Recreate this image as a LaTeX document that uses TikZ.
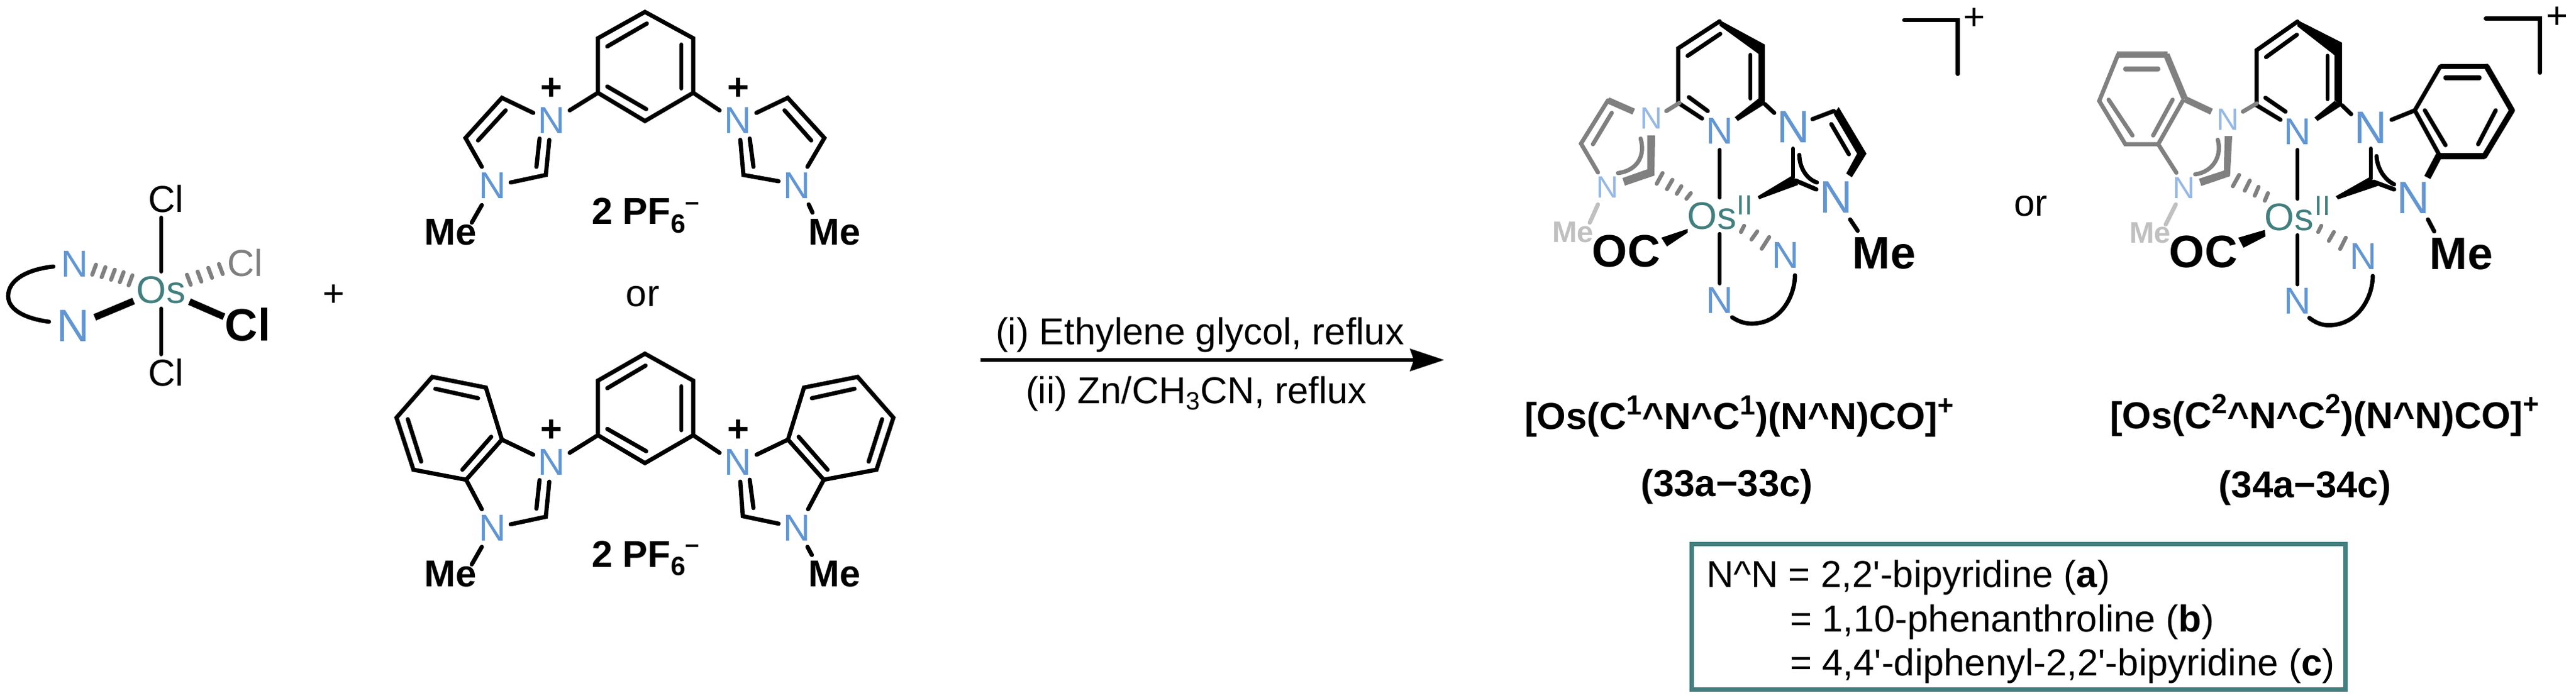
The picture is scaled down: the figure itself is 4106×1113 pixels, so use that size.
\documentclass[tikz,border=0pt]{standalone}
\usepackage{fontspec}
\setmainfont{Liberation Sans}[Ligatures=TeXOff]
\usetikzlibrary{arrows.meta}
\definecolor{osteal}{HTML}{427F7E}
\definecolor{nblue}{HTML}{6296D2}
\definecolor{nblue2}{HTML}{96B8E4}
\definecolor{bgray}{HTML}{808080}
\definecolor{lgray}{HTML}{C0C0C0}
\tikzset{
 x=0.01cm,y=-0.01cm,
 txt/.style={inner sep=0pt,outer sep=0pt,font=\fontsize{17}{20}\selectfont},
 big/.style={inner sep=0pt,outer sep=0pt,font=\bfseries\fontsize{20.6}{24}\selectfont},
 bld/.style={txt,font=\bfseries\fontsize{17}{20}\selectfont},
 smalln/.style={inner sep=0pt,outer sep=0pt,text=nblue2,font=\fontsize{13.9}{16}\selectfont},
 smallme/.style={inner sep=0pt,outer sep=0pt,text=lgray,font=\bfseries\fontsize{13.5}{16}\selectfont},
 nat/.style={txt,text=nblue},
 natbig/.style={inner sep=0pt,outer sep=0pt,text=nblue,font=\fontsize{20.6}{24}\selectfont},
 osat/.style={txt,text=osteal,font=\fontsize{17.4}{20}\selectfont},
 osup/.style={inner sep=0pt,outer sep=0pt,text=osteal,font=\fontsize{12.6}{14}\selectfont},
 bond/.style={line width=1.9pt,line cap=round,line join=miter},
 thin bond/.style={line width=1.8pt,line cap=round},
 gbond/.style={bond,draw=bgray},
 gthick/.style={line width=2.9pt,draw=bgray,line cap=butt,line join=miter},
 thick bond/.style={line width=3.1pt,line cap=butt,line join=miter},
 hash/.style={line width=1.8pt,line cap=round,draw=bgray},
 wedgefill/.style={fill=black,draw=none},
 gfill/.style={fill=bgray,draw=none},
}
\newcommand{\supn}[1]{\raisebox{6.6pt}{\fontsize{12.6}{13}\selectfont #1}}
\begin{document}
\begin{tikzpicture}
\useasboundingbox (0,0) rectangle (4106,1113);
% ---------- starting complex
\node[osat] (os0) at (257,462) {Os};
\node[txt] (cl1) at (265,317) {Cl};
\node[txt,text=bgray] (cl2) at (391,419) {Cl};
\node[big] (cl3) at (395,518) {Cl};
\node[txt] (cl4) at (265,594) {Cl};
\node[nat] (n1) at (119,421) {N};
\node[natbig] (n2) at (117,520) {N};
\node[txt] (plus0) at (532,471) {+};
\draw[thin bond] (257,347) -- (257,433);
\draw[thin bond] (257,492) -- (257,565);
\foreach \x/\y in {150/430,165/434,180/438,194/442,208/447}
  \draw[hash] (\x+3,\y-8) -- (\x-3,\y+8);
\foreach \x/\y in {301/446,318/441,335/435,352/429}
  \draw[hash] (\x-3,\y-8) -- (\x+3,\y+8);
\draw[thick bond] (213,480) -- (151,506);
\draw[thick bond] (302,481) -- (357,505);
\draw[bond] (85,425) .. controls (40,430) and (13,448) .. (13,472) .. controls (13,494) and (40,508) .. (78,513);
% ---------- phenylene bis-imidazolium
\draw[bond,line join=miter] (1028,19) -- (1105,61) -- (1105,148) -- (1028,193) -- (953,148) -- (953,61) -- cycle;
\draw[bond] (1031,37.5) -- (968,74);
\draw[bond] (1086,71) -- (1086,141);
\draw[bond] (968,138) -- (1030,174);
\node[nat] (na1) at (879,192) {N};
\node[txt] (pa1) at (879,142) {\bfseries +};
\node[nat] (na2) at (1176.5,192) {N};
\node[txt] (pa2) at (1176.5,142) {\bfseries +};
\node[nat] (na3) at (785,296) {N};
\node[nat] (na4) at (1270,296) {N};
\node[bld] (mea1) at (718,370) {Me};
\node[bld] (mea2) at (1330,370) {Me};
\draw[bond] (953,148) -- (908,176);
\draw[bond] (1105,148) -- (1147,176);
\draw[bond] (850,180) -- (800,156) -- (742,220) -- (768,266);
\draw[bond] (806,176) -- (762,224);
\draw[bond] (814,291) -- (870,279) -- (875.5,223);
\draw[bond] (860,221) -- (855,266);
\draw[bond] (768,327) -- (752,355);
\draw[bond] (1205.6,180) -- (1255.6,156) -- (1314,220) -- (1287,266);
\draw[bond] (1250.5,176) -- (1293,224);
\draw[bond] (1241,289) -- (1185,279) -- (1180,223);
\draw[bond] (1195,221) -- (1201,266);
\draw[bond] (1289,326) -- (1295,339);
\node[bld,anchor=base west] (pf1) at (943,358) {2 PF\raisebox{-3.7pt}{\fontsize{12}{12}\selectfont 6}\raisebox{6.5pt}{\fontsize{11.4}{12}\selectfont –}};
\node[txt] (or1) at (1024.5,473) {or};
% ---------- phenylene bis-benzimidazolium
\draw[bond] (1028,564) -- (1105,607) -- (1105,694) -- (1028,738.5) -- (953,694) -- (953,607) -- cycle;
\draw[bond] (1029,583) -- (968,619);
\draw[bond] (1086,616) -- (1086,686);
\draw[bond] (968,684) -- (1030,719.5);
\node[nat] (nb1) at (879,737) {N};
\node[txt] (pb1) at (879,687) {\bfseries +};
\node[nat] (nb2) at (1176.5,737) {N};
\node[txt] (pb2) at (1176.5,687) {\bfseries +};
\node[nat] (nb3) at (785,841.5) {N};
\node[nat] (nb4) at (1270,841.5) {N};
\node[bld] (meb1) at (718,915.5) {Me};
\node[bld] (meb2) at (1330,915.5) {Me};
\draw[bond] (953,694) -- (908,722);
\draw[bond] (1105,694) -- (1147,722);
\draw[bond] (850,725) -- (800,701) -- (743,765) -- (768,812);
\draw[bond] (783,696.5) -- (737,749);
\draw[bond] (800,701) -- (774.5,618) -- (689,601) -- (632,666) -- (659,749) -- (743,765);
\draw[bond] (762,635) -- (694,620);
\draw[bond] (650,668.5) -- (671.4,736);
\draw[bond] (814,836) -- (870,824) -- (875.5,768);
\draw[bond] (860,765.5) -- (855,811);
\draw[bond] (768,872) -- (752,900);
\draw[bond] (1206,725) -- (1256,701) -- (1313,765) -- (1288,812);
\draw[bond] (1273,696.5) -- (1319,749);
\draw[bond] (1256,701) -- (1281.5,618) -- (1367,601) -- (1424,666) -- (1397,749) -- (1313,765);
\draw[bond] (1294,635) -- (1362,620);
\draw[bond] (1406,668.5) -- (1384.6,736);
\draw[bond] (1241,835) -- (1184,823) -- (1180,768);
\draw[bond] (1195,765) -- (1201,810);
\draw[bond] (1287,872) -- (1294,885);
\node[bld,anchor=base west] (pf2) at (943,904) {2 PF\raisebox{-3.7pt}{\fontsize{12}{12}\selectfont 6}\raisebox{6.5pt}{\fontsize{11.4}{12}\selectfont –}};
% ---------- reaction arrow
\coordinate (arrS) at (1563,574);
\coordinate (arrE) at (2302,574);
\draw[line width=1.9pt,-{Stealth[length=15.4pt,width=10pt,inset=1.6pt]}] (arrS) -- (arrE);
\node[txt,anchor=base west] (cond1) at (1587,550) {(i) Ethylene glycol, reflux};
\node[txt,anchor=base west] (cond2) at (1635,643) {(ii) Zn/CH\raisebox{-3pt}{\fontsize{11.4}{12}\selectfont 3}CN, reflux};
% ---------- product 33
\node[osat] (os1) at (2729,344) {Os};
\node[osup] (ii1) at (2781,327) {II};
\node[nat] (c1n1) at (2741,209) {N};
\node[natbig] (c1n2) at (2859,203) {N};
\node[natbig] (c1n3) at (2927,315) {N};
\node[nat] (c1n4) at (2741,479) {N};
\node[nat] (c1n5) at (2846,407) {N};
\node[smalln] (c1n6) at (2632,189) {N};
\node[smalln] (c1n7) at (2562,299) {N};
\node[big] (c1me) at (3003,403.5) {Me};
\node[big] (c1oc) at (2592,401) {OC};
\node[smallme] (c1me2) at (2507,370) {Me};
% pyridine
\draw[bond] (2741,34) -- (2675,77) -- (2675,164) -- (2713,189);
\draw[bond] (2742,54) -- (2690,89);
\draw[bond] (2790,87.5) -- (2790,157);
\draw[bond] (2692,155) -- (2722,177);
\fill[wedgefill] (2741,32) -- (2813,71) -- (2813,170) -- (2803,157) -- (2803,86) -- (2741,41) -- cycle;
\fill[wedgefill] (2803,157) -- (2813,166) -- (2770,193) -- (2765,187) -- cycle;
\draw[bond] (2813,166) -- (2828,180);
% right imidazole
\draw[bond] (2889,190) -- (2923,177);
\fill[wedgefill] (2922.7,181.7) -- (2930.7,170.7) -- (2975,245) -- (2951.7,282.7) -- (2942.7,276.7) -- (2960,245) -- cycle;
\draw[bond] (2919,198) -- (2947,246);
\draw[bond] (2949,350) -- (2961,368);
\draw[bond] (2858,237) -- (2858,283);
\draw[bond] (2868,247) .. controls (2868,265) and (2878,285) .. (2896,291);
\fill[wedgefill] (2801.7,313) -- (2804,317.7) -- (2866,295) -- (2856.7,280) -- cycle;
\draw[line width=2pt,line cap=round] (2862,288) -- (2895,302);
% axial bonds
\draw[thin bond] (2741,239) -- (2741,315);
\draw[thin bond] (2741,373) -- (2741,452);
\draw[bond] (2861,439) .. controls (2861,470) and (2840,516) .. (2792,516) .. controls (2780,516) and (2770,512) .. (2761,506);
\draw[hash] (2780,360) -- (2775,370);
\draw[hash] (2801,369) -- (2791.7,382);
\draw[hash] (2820,378) -- (2808,396.7);
\draw[hash] (2650,276) -- (2640.7,293);
\draw[hash] (2665.7,286.7) -- (2657,301.7);
\draw[hash] (2680,297) -- (2672.7,309);
\draw[hash] (2695,308) -- (2688,317);
\fill[wedgefill] (2690,365) -- (2690,371) -- (2657,393) -- (2648,379) -- cycle;
% left gray imidazole
\draw[gthick] (2604,178) -- (2563,160);
\draw[gbond] (2563,160) -- (2520,229) -- (2547,275);
\draw[gbond] (2569,180) -- (2539,230);
\draw[gbond] (2656,177) -- (2677,164);
\fill[gfill] (2625.5,216) -- (2638,216) -- (2637,280) -- (2590,296) -- (2586,284) -- (2625.5,270) -- cycle;
\draw[gbond] (2615,221) .. controls (2623,248) and (2610,272) .. (2579,276);
\draw[bond,draw=lgray] (2547,326) -- (2534,355);
% bracket
\coordinate (br1a) at (3035,32);
\coordinate (br1b) at (3120.6,32);
\coordinate (br1c) at (3120.6,118);
\draw[thin bond,line join=miter] (br1a) -- (br1b) -- (br1c);
\node[txt] (pbr1) at (3147,30) {+};
\node[txt] (or2) at (3237,329) {or};
% ---------- product 34
\node[osat] (os2) at (3649,346) {Os};
\node[osup] (ii2) at (3702,328) {II};
\node[nat] (c2n1) at (3662,210) {N};
\node[natbig] (c2n2) at (3779,204) {N};
\node[natbig] (c2n3) at (3847,316) {N};
\node[nat] (c2n4) at (3662,480) {N};
\node[nat] (c2n5) at (3767,409) {N};
\node[smalln] (c2n6) at (3551,190.6) {N};
\node[smalln] (c2n7) at (3481,300) {N};
\node[big] (c2me) at (3923,404.5) {Me};
\node[big] (c2oc) at (3512,402) {OC};
\node[smallme] (c2me2) at (3427,371) {Me};
% pyridine
\draw[bond] (3662,34.4) -- (3597,80) -- (3597,168) -- (3635,191);
\draw[bond] (3661,55.5) -- (3612,91);
\draw[bond] (3710,89) -- (3710,158);
\draw[bond] (3611,156) -- (3643,178);
\fill[wedgefill] (3662,32) -- (3733,68) -- (3733,170) -- (3721,160) -- (3721,88) -- (3662,42) -- cycle;
\fill[wedgefill] (3721,161) -- (3733,168) -- (3694,193) -- (3689,187.5) -- cycle;
\draw[bond] (3733,168) -- (3747.5,182);
% right benzimidazole
\draw[bond] (3812,191) -- (3849,176);
\draw[bond] (3849,176) -- (3889.6,106);
\draw[line width=2.2pt,line join=miter] (3889.6,106) -- (3963.5,106);
\draw[line width=2.6pt,line cap=round,line join=round] (3963.5,106) -- (4004,176);
\draw[line width=2.6pt,line cap=round,line join=round] (4004,176) -- (3960,249);
\draw[line width=3.1pt,line cap=butt] (3960,249) -- (3888,249);
\draw[bond] (3888,247) -- (3849,176);
\draw[line width=3.1pt,line cap=butt] (3888,247) -- (3869,283);
\draw[line width=2pt,line cap=round] (3898,124) -- (3952,124);
\draw[bond] (3978,176) -- (3950,230);
\draw[bond] (3865,176) -- (3898,231.5);
\draw[bond] (3870,350) -- (3880,369);
\draw[bond] (3779,237) -- (3779,285);
\draw[bond] (3788,249) .. controls (3789,268) and (3800,286) .. (3816,294);
\fill[wedgefill] (3723,313) -- (3726.6,318) -- (3790,296.6) -- (3777,282.4) -- cycle;
\draw[line width=2pt,line cap=round] (3783.5,290) -- (3816,302);
% axial bonds
\draw[thin bond] (3662,239) -- (3662,317);
\draw[thin bond] (3662,375) -- (3662,453.5);
\draw[bond] (3782,440) .. controls (3782,472) and (3760,518.6) .. (3711.5,518.6) .. controls (3700,518.6) and (3690,514) .. (3681,507);
\draw[hash] (3700,360) -- (3695,370);
\draw[hash] (3720,370) -- (3712,384);
\draw[hash] (3739,379) -- (3730,397);
\draw[hash] (3569,279) -- (3559,297);
\draw[hash] (3586,288) -- (3578,304);
\draw[hash] (3600,298) -- (3594,312);
\draw[hash] (3615,308) -- (3610,320);
\fill[wedgefill] (3610,366.6) -- (3611,377) -- (3576,395) -- (3567.6,379) -- cycle;
% left gray benzimidazole
\draw[gthick] (3525,178) -- (3482.5,158);
\draw[gthick] (3482.5,158) -- (3453,87);
\draw[gthick] (3455,87) -- (3374,87);
\draw[gbond] (3376,87) -- (3346,161) -- (3387.6,230) -- (3440,230) -- (3479,161);
\draw[gbond] (3440,230) -- (3469,275.5);
\draw[bgray,line width=2pt,line cap=round] (3387.6,110) -- (3440,110);
\draw[gbond] (3361,159) -- (3399,216);
\draw[gbond] (3463,159) -- (3432,216);
\draw[gbond] (3575,178) -- (3597,165);
\fill[gfill] (3546,217) -- (3558,217) -- (3554.5,281) -- (3508.7,296.6) -- (3505,285) -- (3544.7,272) -- cycle;
\draw[gbond] (3535,223) .. controls (3542,248) and (3528,274) .. (3499,278);
\draw[bond,draw=lgray] (3468,326) -- (3452,358);
% bracket
\coordinate (br2a) at (3962,29.5);
\coordinate (br2b) at (4048.6,29.5);
\coordinate (br2c) at (4048.6,116);
\draw[thin bond,line join=miter] (br2a) -- (br2b) -- (br2c);
\node[txt] (pbr2) at (4076,28) {+};
% ---------- captions
\node[bld,anchor=base west] (lab1) at (2430,685) {[Os(C\supn{1}\textasciicircum N\textasciicircum C\supn{1})(N\textasciicircum N)CO]\supn{+}};
\node[bld,anchor=base west] (lab2) at (3363,683) {[Os(C\supn{2}\textasciicircum N\textasciicircum C\supn{2})(N\textasciicircum N)CO]\supn{+}};
\node[bld,anchor=base] (lab3) at (2752.5,791.7) {(33a−33c)};
\node[bld,anchor=base] (lab4) at (3674,793.5) {(34a−34c)};
% ---------- legend box
\node[draw=osteal,line width=2pt,minimum width=1041*0.1mm,minimum height=231.3*0.1mm,inner sep=0pt,anchor=north west] (legend) at (2693.4,864.4) {};
\node[txt,anchor=base west] (l1) at (2720,936.5) {N\textasciicircum N = 2,2'-bipyridine (\textbf{a})};
\node[txt,anchor=base west] (l2) at (2853,1007) {= 1,10-phenanthroline (\textbf{b})};
\node[txt,anchor=base west] (l3) at (2853,1077) {= 4,4'-diphenyl-2,2'-bipyridine (\textbf{c})};
\end{tikzpicture}
\end{document}
